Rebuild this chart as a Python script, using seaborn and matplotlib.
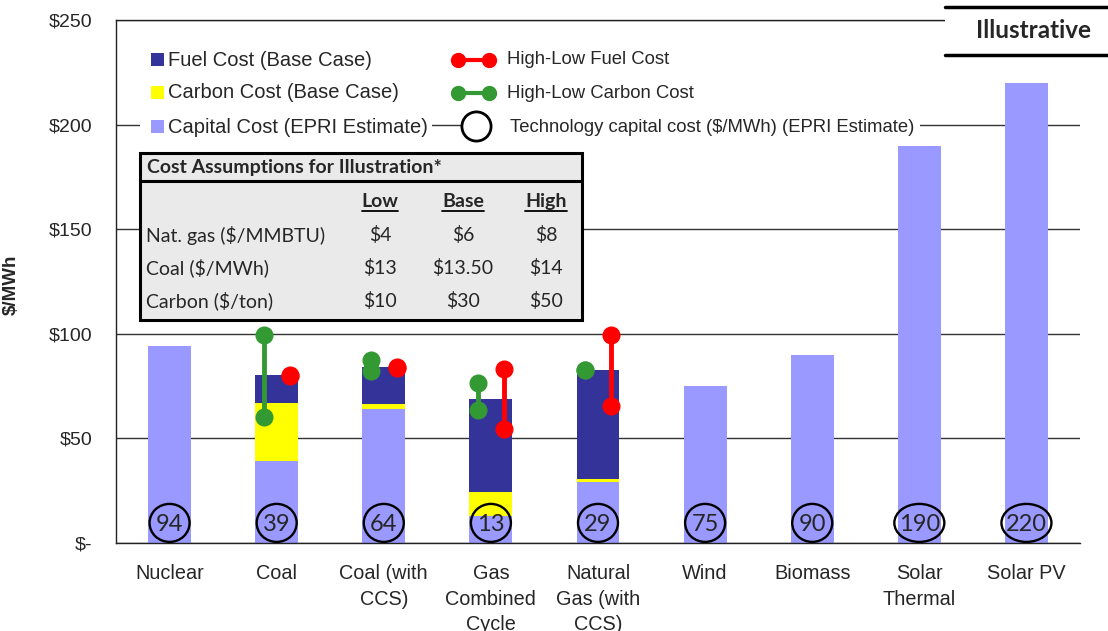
import matplotlib
matplotlib.use("Agg")
import matplotlib.pyplot as plt
from matplotlib.patches import Rectangle, Ellipse
from matplotlib.lines import Line2D
from matplotlib.transforms import ScaledTranslation
import pandas as pd
import seaborn as sns

# ---- data -------------------------------------------------------------
technologies = ["Nuclear", "Coal", "Coal (with\nCCS)", "Gas\nCombined\nCycle",
                "Natural\nGas (with\nCCS)", "Wind", "Biomass", "Solar\nThermal", "Solar PV"]
capital_cost = [94, 39, 64, 13, 29, 75, 90, 190, 220]
carbon_cost = [0, 28, 2.5, 11.5, 1.5, 0, 0, 0, 0]
fuel_cost = [0, 13.5, 17.5, 44.5, 52, 0, 0, 0, 0]

# total $/MWh under low / high price assumptions
range_techs = ["Coal", "Coal (with\nCCS)", "Gas\nCombined\nCycle", "Natural\nGas (with\nCCS)"]
carbon_low = [60, 82, 63.5, 82.5]
carbon_high = [99.5, 87.5, 76.5, 82.5]
fuel_low = [80, 83.5, 54.5, 65.5]
fuel_high = [80.5, 84, 83, 99.5]

y_ticks = [0, 50, 100, 150, 200, 250]
y_tick_labels = ["$-", "$50", "$100", "$150", "$200", "$250"]

table_title = "Cost Assumptions for Illustration*"
table_columns = ["Low", "Base", "High"]
table_rows = ["Nat. gas ($/MMBTU)", "Coal ($/MWh)", "Carbon ($/ton)"]
table_values = [["$4", "$6", "$8"],
                ["$13", "$13.50", "$14"],
                ["$10", "$30", "$50"]]

FUEL = "#333399"
CARBON = "#FFFF00"
CAPITAL = "#9999FF"
RED = "#FF0000"
GREEN = "#339933"

# ---- style ------------------------------------------------------------
sns.set_style("white")
plt.rcParams["font.family"] = ["Liberation Sans", "DejaVu Sans"]
plt.rcParams["text.parse_math"] = False
CAL = ["Lato", "DejaVu Sans"]

W, H = 1108, 631
fig = plt.figure(figsize=(W / 100, H / 100), dpi=100)
fig.patch.set_facecolor("white")
ax = fig.add_axes([116 / W, 1 - 543 / H, (1080 - 116) / W, (543 - 20) / H])


def fx(px):
    return px / W


def fy(py):
    return 1 - py / H


# ---- stacked bars -----------------------------------------------------
df = pd.DataFrame({"tech": technologies, "capital": capital_cost,
                   "carbon": carbon_cost, "fuel": fuel_cost})
df["with_carbon"] = df["capital"] + df["carbon"]
df["total"] = df["with_carbon"] + df["fuel"]

for col, colour in [("total", FUEL), ("with_carbon", CARBON), ("capital", CAPITAL)]:
    sns.barplot(data=df, x="tech", y=col, order=technologies, color=colour,
                saturation=1, width=0.4, errorbar=None, linewidth=0, ax=ax, zorder=2)

# ---- high / low sensitivity ranges -------------------------------------
for name, lo, hi in zip(range_techs, carbon_low, carbon_high):
    xp = technologies.index(name) - 0.12
    ax.plot([xp, xp], [lo, hi], color=GREEN, lw=3.5, marker="o", ms=12,
            solid_capstyle="butt", zorder=4)
for name, lo, hi in zip(range_techs, fuel_low, fuel_high):
    xp = technologies.index(name) + 0.12
    ax.plot([xp, xp], [lo, hi], color=RED, lw=3.5, marker="o", ms=12,
            solid_capstyle="butt", zorder=4)

# ---- capital cost bubbles ---------------------------------------------
for i, v in enumerate(capital_cost):
    label = str(v)
    anchor = fig.dpi_scale_trans + ScaledTranslation(i, 9.6, ax.transData)
    w_in = 0.40 if len(label) < 3 else 0.50
    ax.add_patch(Ellipse((0, 0), w_in, 0.38, transform=anchor, fc="none",
                         ec="black", lw=1.7, zorder=5, clip_on=False))
    ax.text(i, 9.6, label, ha="center", va="center_baseline", fontsize=17,
            family=CAL, zorder=6)

# ---- axes -------------------------------------------------------------
ax.set_xlim(-0.5, len(technologies) - 0.5)
ax.set_ylim(0, 250)
ax.set_yticks(y_ticks)
ax.set_yticklabels(y_tick_labels)
ax.set_xlabel("")
ax.set_ylabel("$/MWh", fontsize=13.5, fontweight="bold")
ax.yaxis.set_label_coords((20 - 116) / 964, (543 - 285) / 523)
ax.tick_params(axis="y", length=0, pad=17, labelsize=14)
ax.tick_params(axis="x", length=0, pad=15, labelsize=14.3)
for t in ax.get_xticklabels():
    t.set_linespacing(1.45)
ax.set_axisbelow(True)
ax.yaxis.grid(True, color="#333333", lw=1)
ax.xaxis.grid(False)
for s in ["left", "bottom", "top"]:
    ax.spines[s].set_color("#222222")
    ax.spines[s].set_linewidth(1)
ax.spines["right"].set_visible(False)

# ---- legend -----------------------------------------------------------
def fig_rect(x0, y0, x1, y1, **kw):
    r = Rectangle((fx(x0), fy(y1)), (x1 - x0) / W, (y1 - y0) / H,
                  transform=fig.transFigure, **kw)
    fig.add_artist(r)
    return r


fig_rect(140, 116, 432, 137, fc="white", ec="none", zorder=3)
fig_rect(478, 116, 920, 137, fc="white", ec="none", zorder=3)

for y, colour, label in [(59, FUEL, "Fuel Cost (Base Case)"),
                         (92, CARBON, "Carbon Cost (Base Case)"),
                         (126, CAPITAL, "Capital Cost (EPRI Estimate)")]:
    fig_rect(151, y - 6.5, 164, y + 6.5, fc=colour, ec="none", zorder=4)
    fig.text(fx(168), fy(y + 1), label, ha="left", va="center", fontsize=14.5, zorder=4)

for y, colour, label in [(60, RED, "High-Low Fuel Cost"),
                         (93, GREEN, "High-Low Carbon Cost")]:
    fig.add_artist(Line2D([fx(458), fx(489)], [fy(y), fy(y)], color=colour, lw=3,
                          marker="o", ms=10, transform=fig.transFigure, zorder=4))
    fig.text(fx(507), fy(y), label, ha="left", va="center", fontsize=13.3, zorder=4)

fig.add_artist(Line2D([fx(476)], [fy(126)], marker="o", ms=21, mfc="white",
                      mec="black", mew=2, lw=0, transform=fig.transFigure, zorder=4))
fig.text(fx(510), fy(128), "Technology capital cost ($/MWh) (EPRI Estimate)",
         ha="left", va="center", fontsize=13.3, zorder=4)

# ---- assumptions table --------------------------------------------------
fig_rect(140, 153, 582, 320, fc="#EAEAEA", ec="black", lw=2.2, zorder=5)
fig.add_artist(Line2D([fx(140), fx(582)], [fy(181), fy(181)], color="black", lw=2.2,
                      transform=fig.transFigure, zorder=6))
fig.text(fx(147), fy(167), table_title, ha="left", va="center", fontsize=14,
         fontweight="bold", family=CAL, zorder=6)

col_x = [380, 463, 546]
header_texts = []
for cx, name in zip(col_x, table_columns):
    header_texts.append(fig.text(fx(cx), fy(201), name, ha="center", va="center",
                                 fontsize=14, fontweight="bold", family=CAL, zorder=6))
for r, (row_label, vals) in enumerate(zip(table_rows, table_values)):
    yy = 235 + r * 33
    fig.text(fx(146), fy(yy), row_label, ha="left", va="center", fontsize=14,
             family=CAL, zorder=6)
    for cx, v in zip(col_x, vals):
        fig.text(fx(cx), fy(yy), v, ha="center", va="center", fontsize=14,
                 family=CAL, zorder=6)

# ---- "Illustrative" tag -------------------------------------------------
fig_rect(945, 7, 1108, 55, fc="white", ec="none", zorder=5)
for yy in (7, 55):
    fig.add_artist(Line2D([fx(945), fx(1108)], [fy(yy), fy(yy)], color="black", lw=2.5,
                          transform=fig.transFigure, zorder=6))
fig.text(fx(1034), fy(31), "Illustrative", ha="center", va="center", fontsize=17.5,
         fontweight="bold", family=CAL, zorder=6)

# underline the column headers
fig.canvas.draw()
renderer = fig.canvas.get_renderer()
for t in header_texts:
    bb = t.get_window_extent(renderer).transformed(fig.transFigure.inverted())
    fig.add_artist(Line2D([bb.x0, bb.x1], [fy(211), fy(211)], color="black", lw=1.3,
                          transform=fig.transFigure, zorder=6))

fig.savefig("out.png", dpi=100, facecolor="white")
